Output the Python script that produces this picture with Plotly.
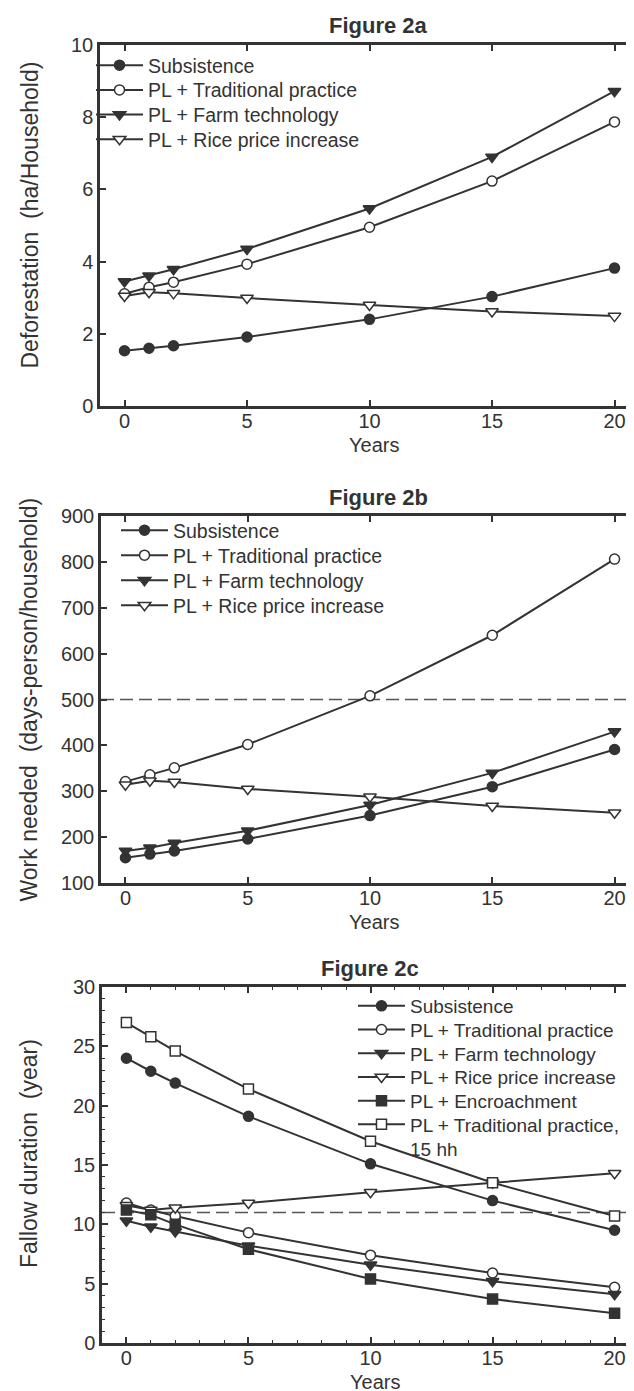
import plotly.graph_objects as go

# ---------------- data ----------------
years = [0, 1, 2, 5, 10, 15, 20]

# Figure 2a - Deforestation (ha/Household)
a_subsistence = [1.53, 1.60, 1.67, 1.91, 2.40, 3.03, 3.82]
a_traditional = [3.11, 3.29, 3.43, 3.93, 4.95, 6.23, 7.87]
a_farm_tech = [3.45, 3.61, 3.79, 4.35, 5.47, 6.90, 8.72]
a_rice_price = [3.05, 3.15, 3.12, 2.99, 2.80, 2.62, 2.49]

# Figure 2b - Work needed (days-person/household)
b_subsistence = [155, 163, 170, 196, 247, 310, 391]
b_traditional = [321, 336, 351, 402, 508, 640, 806]
b_farm_tech = [170, 177, 187, 214, 270, 340, 430]
b_rice_price = [314, 323, 320, 305, 288, 268, 253]
b_threshold = 500

# Figure 2c - Fallow duration (year)
c_subsistence = [24.0, 22.9, 21.9, 19.1, 15.1, 12.0, 9.5]
c_traditional = [11.8, 11.2, 10.7, 9.3, 7.4, 5.9, 4.7]
c_farm_tech = [10.3, 9.8, 9.4, 8.2, 6.6, 5.2, 4.1]
c_rice_price = [11.6, 11.2, 11.4, 11.8, 12.7, 13.5, 14.3]
c_encroachment = [11.2, 10.8, 10.0, 7.9, 5.4, 3.7, 2.5]
c_trad_15hh = [27.0, 25.8, 24.6, 21.4, 17.0, 13.5, 10.7]
c_threshold = 11

names = {
    "sub": "Subsistence",
    "trad": "PL + Traditional practice",
    "farm": "PL + Farm technology",
    "rice": "PL + Rice price increase",
    "enc": "PL + Encroachment",
    "t15": "PL + Traditional practice,<br>15 hh",
}

panel_titles = ["Figure 2a", "Figure 2b", "Figure 2c"]
y_titles = ["Deforestation\u00a0\u00a0(ha/Household)",
            "Work needed\u00a0\u00a0(days-person/household)",
            "Fallow duration\u00a0\u00a0(year)"]
x_title = "Years"

# ---------------- styles ----------------
INK = "#333333"
FONT = "Liberation Sans, Arial, Helvetica, sans-serif"
W, H = 634, 1391

styles = {
    "sub": dict(symbol="circle", size=10, fill=INK),
    "trad": dict(symbol="circle", size=10, fill="white"),
    "farm": dict(symbol="triangle-down", size=11, fill=INK),
    "rice": dict(symbol="triangle-down", size=11, fill="white"),
    "enc": dict(symbol="square", size=10, fill=INK),
    "t15": dict(symbol="square", size=10, fill="white"),
}

# panel pixel boxes: (left, right, top, bottom)
boxes = [(92, 631, 37, 398), (93, 631, 508, 875), (94, 631, 979, 1335)]
# legend layout per panel: (first row centre px, row step px, line start px, font size)
leg_layout = [(58, 24.7, 92, 19.5), (523, 25.0, 117, 19.5), (999, 23.7, 354, 19.0)]
title_x = [370, 370, 362]
ytitle_shift = [10, 0, 11]
ITEM_W = 47

fig = go.Figure()
legend_defs = {}
leg_counter = [0]


def legend_for(panel, row):
    leg_counter[0] += 1
    n = leg_counter[0]
    lid = "legend" if n == 1 else "legend%d" % n
    first, step, lx, fs = leg_layout[panel]
    yc = first + row * step
    legend_defs[lid] = dict(
        x=(lx - 9) / W, y=1 - (yc - 20) / H, xanchor="left", yanchor="top",
        bgcolor="rgba(0,0,0,0)", borderwidth=0, valign="top", visible=True,
        font=dict(family=FONT, size=fs, color=INK), itemwidth=ITEM_W,
    )
    return lid


def add(panel, row, key, ys):
    st = styles[key]
    sfx = "" if panel == 0 else str(panel + 1)
    fig.add_trace(go.Scatter(
        x=years, y=ys, name=names[key], mode="lines+markers", showlegend=True,
        xaxis="x" + sfx, yaxis="y" + sfx, legend=legend_for(panel, row),
        line=dict(color=INK, width=2),
        marker=dict(symbol=st["symbol"], size=st["size"], color=st["fill"],
                    line=dict(color=INK, width=1.5)),
    ))


panel_series = [
    [("sub", a_subsistence), ("trad", a_traditional),
     ("farm", a_farm_tech), ("rice", a_rice_price)],
    [("sub", b_subsistence), ("trad", b_traditional),
     ("farm", b_farm_tech), ("rice", b_rice_price)],
    [("sub", c_subsistence), ("trad", c_traditional),
     ("farm", c_farm_tech), ("rice", c_rice_price),
     ("enc", c_encroachment), ("t15", c_trad_15hh)],
]
for p, series in enumerate(panel_series):
    for r, (k, ys) in enumerate(series):
        add(p, r, k, ys)


def xdom(b):
    return [b[0] / W, b[1] / W]


def ydom(b):
    return [1 - b[3] / H, 1 - b[2] / H]


tickfont = dict(family=FONT, size=20, color=INK)
common_x = dict(range=[-1, 21], tickvals=[0, 5, 10, 15, 20], ticks="inside",
                ticklen=6, tickwidth=1.5, tickcolor=INK, showline=True,
                linecolor=INK, linewidth=2.5, mirror="ticks", showgrid=False,
                zeroline=False, tickfont=tickfont, automargin=False,
                ticklabelstandoff=-5)
common_y = dict(ticks="inside", ticklen=6, tickwidth=1.5, tickcolor=INK,
                showline=True, linecolor=INK, linewidth=2.5, mirror="ticks",
                showgrid=False, zeroline=False, tickfont=tickfont, automargin=False)
minor = dict(dtick=1, ticks="inside", ticklen=3, tickcolor=INK, tickwidth=1)

fig.update_layout(
    template="none",
    showlegend=True,
    width=W, height=H, margin=dict(l=0, r=0, t=0, b=0),
    paper_bgcolor="white", plot_bgcolor="white",
    font=dict(family=FONT, color=INK),
    xaxis=dict(common_x, domain=xdom(boxes[0]), anchor="y"),
    yaxis=dict(common_y, domain=ydom(boxes[0]), anchor="x", range=[0, 10], dtick=2),
    xaxis2=dict(common_x, domain=xdom(boxes[1]), anchor="y2"),
    yaxis2=dict(common_y, domain=ydom(boxes[1]), anchor="x2", range=[100, 900], dtick=100),
    xaxis3=dict(common_x, domain=xdom(boxes[2]), anchor="y3", minor=minor),
    yaxis3=dict(common_y, domain=ydom(boxes[2]), anchor="x3", range=[0, 30], dtick=5,
                minor=minor),
    **legend_defs,
)

# threshold dashed lines
for yref, xref, val in [("y2", "x2 domain", b_threshold), ("y3", "x3 domain", c_threshold)]:
    fig.add_shape(type="line", xref=xref, yref=yref, x0=0, x1=1, y0=val, y1=val,
                  line=dict(color="#555555", width=1.5, dash="13px,6px"), layer="below")

# titles
for i, b in enumerate(boxes):
    fig.add_annotation(text="<b>%s</b>" % panel_titles[i], xref="paper", yref="paper",
                       x=title_x[i] / W, y=1 - (b[2] - 19) / H,
                       xanchor="center", yanchor="middle", showarrow=False,
                       font=dict(family=FONT, size=22, color=INK))
    fig.add_annotation(text=x_title, xref="paper", yref="paper",
                       x=((b[0] + b[1]) / 2 + 4) / W, y=1 - (b[3] + 39) / H,
                       xanchor="center", yanchor="middle", showarrow=False,
                       font=dict(family=FONT, size=20, color=INK))
    fig.add_annotation(text=y_titles[i], xref="paper", yref="paper",
                       x=21 / W, y=1 - ((b[2] + b[3]) / 2 - ytitle_shift[i]) / H,
                       xanchor="center", yanchor="middle", showarrow=False, textangle=-90,
                       font=dict(family=FONT, size=23, color=INK))

fig.write_html("out.html")
